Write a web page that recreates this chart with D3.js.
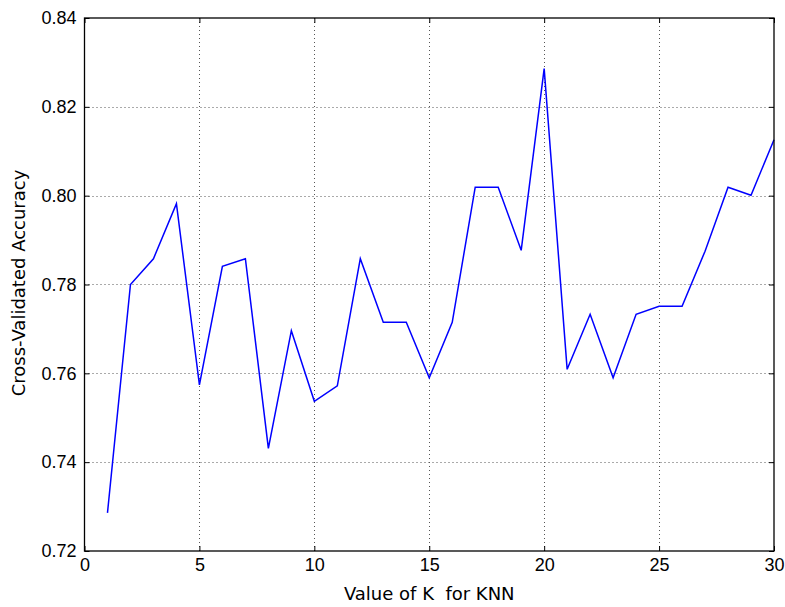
<!DOCTYPE html>
<html>
<head>
<meta charset="utf-8">
<script src="https://cdn.jsdelivr.net/npm/d3@7"></script>
<style>
  html, body { margin: 0; padding: 0; background: #fff; }
  svg { display: block; font-family: "DejaVu Sans", sans-serif; }
</style>
</head>
<body>
<svg id="chart" width="785" height="607"></svg>
<script>
// Number of neighbours K and the mean cross-validated accuracy for each
const kValues = [1, 2, 3, 4, 5, 6, 7, 8, 9, 10, 11, 12, 13, 14, 15, 16, 17, 18, 19, 20,
                 21, 22, 23, 24, 25, 26, 27, 28, 29, 30];
const accuracy = [0.7286, 0.7800, 0.7858, 0.7982, 0.7574, 0.7841, 0.7858, 0.7431, 0.7696, 0.7537,
                  0.7572, 0.7858, 0.7715, 0.7715, 0.7590, 0.7715, 0.8019, 0.8019, 0.7877, 0.8286,
                  0.7609, 0.7733, 0.7590, 0.7733, 0.7751, 0.7751, 0.7875, 0.8019, 0.8001, 0.8126];
const xTicks = [0, 5, 10, 15, 20, 25, 30];
const yTicks = [0.72, 0.74, 0.76, 0.78, 0.80, 0.82, 0.84];
const xLabel = "Value of K  for KNN";
const yLabel = "Cross-Validated Accuracy";

const svg = d3.select("#chart");
const plotL = 84.5, plotR = 774, plotT = 18, plotB = 551;
const fontSize = 18;

const x = d3.scaleLinear().domain([0, 30]).range([plotL, plotR]);
const y = d3.scaleLinear().domain([0.72, 0.84]).range([plotB, plotT]);

// dotted grid
const grid = svg.append("g").attr("stroke", "#555").attr("stroke-width", 1)
  .attr("stroke-dasharray", "1,3");
grid.selectAll("line.gx").data(xTicks.slice(1, -1)).join("line")
  .attr("x1", d => Math.round(x(d)) + 0.5).attr("x2", d => Math.round(x(d)) + 0.5)
  .attr("y1", plotT).attr("y2", plotB);
grid.selectAll("line.gy").data(yTicks.slice(1, -1)).join("line")
  .attr("y1", d => Math.round(y(d)) + 0.5).attr("y2", d => Math.round(y(d)) + 0.5)
  .attr("x1", plotL).attr("x2", plotR);

// accuracy line
svg.append("path")
  .datum(kValues.map((k, i) => [k, accuracy[i]]))
  .attr("fill", "none").attr("stroke", "#0000ff").attr("stroke-width", 1.5)
  .attr("stroke-linejoin", "miter")
  .attr("d", d3.line().x(d => x(d[0])).y(d => y(d[1])));

// axes with inward ticks on all four sides
const fmtY = d3.format(".2f");
const tickLen = 5;
const axB = d3.axisBottom(x).tickValues(xTicks).tickSizeInner(-tickLen).tickSizeOuter(0).tickPadding(7).tickFormat(d3.format("d"));
const axT = d3.axisTop(x).tickValues(xTicks).tickSizeInner(-tickLen).tickSizeOuter(0).tickFormat("");
const axL = d3.axisLeft(y).tickValues(yTicks).tickSizeInner(-tickLen).tickSizeOuter(0).tickPadding(8).tickFormat(fmtY);
const axR = d3.axisRight(y).tickValues(yTicks).tickSizeInner(-tickLen).tickSizeOuter(0).tickFormat("");

function style(g) {
  g.select(".domain").remove();
  g.selectAll(".tick line").attr("stroke", "#000").attr("stroke-width", 1);
  g.selectAll(".tick text").attr("fill", "#000").attr("font-size", fontSize);
}
svg.append("g").attr("transform", `translate(0,${plotB})`).call(axB).call(style);
svg.append("g").attr("transform", `translate(0,${plotT})`).call(axT).call(style);
svg.append("g").attr("transform", `translate(${plotL},0)`).call(axL).call(style);
svg.append("g").attr("transform", `translate(${plotR},0)`).call(axR).call(style);

// frame
svg.append("rect").attr("x", plotL).attr("y", plotT)
  .attr("width", plotR - plotL).attr("height", plotB - plotT)
  .attr("fill", "none").attr("stroke", "#000").attr("stroke-width", 1.3);

// axis titles
svg.append("text").attr("x", (plotL + plotR) / 2).attr("y", 600)
  .attr("text-anchor", "middle").attr("font-size", fontSize).attr("fill", "#000")
  .style("white-space", "pre").attr("xml:space", "preserve").text(xLabel);
svg.append("text").attr("transform", `translate(25,283) rotate(-90)`)
  .attr("text-anchor", "middle").attr("font-size", fontSize).attr("fill", "#000").text(yLabel);
</script>
</body>
</html>
